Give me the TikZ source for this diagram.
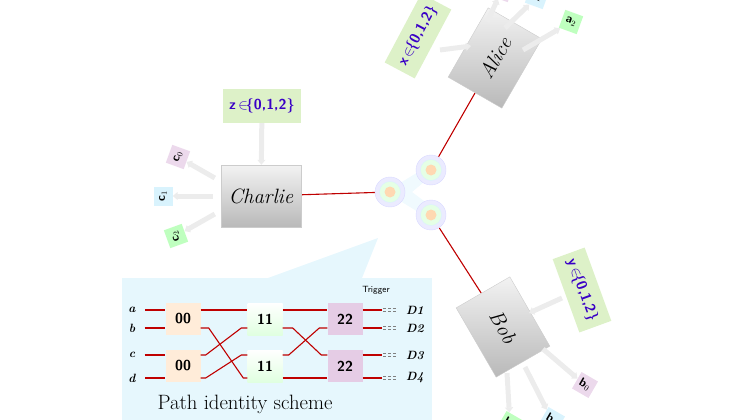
\documentclass[tikz,border=0pt]{standalone}
\usepackage{tikz}
\usetikzlibrary{arrows.meta,calc,backgrounds}
\begin{document}
\begin{tikzpicture}[x=1pt,y=-1pt,>={Triangle[length=5pt,width=8pt]}]
 \tikzstyle{party} = [draw=gray!40,top color=gray!10,bottom color=gray!55,minimum width=80,minimum height=62,font=\itshape\huge]
 \tikzstyle{setting} = [fill=yellow!40!green!22,minimum width=78,minimum height=34,font=\sffamily\bfseries\Large,text=blue!55!violet]
 \tikzstyle{outcome} = [minimum size=19,inner sep=0,font=\sffamily\bfseries\large]
 \tikzstyle{feed} = [->,line width=5pt,draw=gray!15]
 \tikzstyle{fibre} = [red!75!black,line width=1.1pt]
 \tikzstyle{gate} = [minimum width=35,minimum height=32,inner sep=0,font=\sffamily\bfseries\Large]
 \tikzstyle{portlbl} = [font=\bfseries\itshape\large]
 \newcommand{\ring}[2]{%
  \node[circle,fill=blue!8,draw=blue!15,minimum size=30] (#1) at #2 {};
  \node[circle,fill=green!10,draw=cyan!15,minimum size=21] at (#1) {};
  \node[circle,fill=orange!30,minimum size=11] at (#1) {};}

 \useasboundingbox (0,0) rectangle (740,420);
 \clip (0,0) rectangle (740,420);

% Path identity panel
 \fill[cyan!10] (122,278) rectangle (432,420);
 \fill[cyan!10] (268,278) -- (378,238) -- (362,278) -- cycle;

% Source
 \fill[cyan!6] (392,188) -- (428,166) -- (436,172) -- (412,192) -- (436,210) -- (428,218) -- (392,196) -- cycle;
 \ring{s1}{(390,192)}
 \ring{s2}{(431,170)}
 \ring{s3}{(431,215)}

% Parties
 \node[party] (charlie) at (261,196) {Charlie};
 \node[party,rotate=60] (alice) at (495,58) {Alice};
 \node[party,rotate=-60] (bob) at (503,327) {Bob};
 \begin{scope}[on background layer]
  \draw[fibre] (charlie) -- (s1);
  \draw[fibre] (alice) -- (s2);
  \draw[fibre] (bob) -- (s3);
 \end{scope}

% Settings
 \node[setting] (z) at (262,106) {z$\,\in\!$\{0,1,2\}};
 \node[setting,rotate=62] (x) at (418,36) {x$\,\in\!$\{0,1,2\}};
 \node[setting,rotate=-70] (y) at (582,290) {y$\,\in\!$\{0,1,2\}};
 \draw[feed] (z) -- (charlie);
 \draw[feed] ($(x)+(22,14)$) -- ($(alice)+(-24,-12)$);
 \draw[feed] ($(y)+(-20,8)$) -- ($(bob)+(26,-14)$);

% Outcomes
 \node[outcome,fill=violet!15,rotate=70] (c0) at (178,157) {c$_0$};
 \node[outcome,fill=cyan!15,rotate=90] (c1) at (163,196) {c$_1$};
 \node[outcome,fill=green!25,rotate=110] (c2) at (176,236) {c$_2$};
 \draw[feed] ($(charlie.west)+(-6,-18)$) -- (c0);
 \draw[feed] ($(charlie.west)+(-8,0)$) -- (c1);
 \draw[feed] ($(charlie.west)+(-6,18)$) -- (c2);
 \node[outcome,fill=green!25,rotate=-20] (a2) at (571,22) {a$_2$};
 \node[outcome,fill=cyan!15,rotate=-20] (a1) at (537,-3) {a$_1$};
 \node[outcome,fill=violet!15,rotate=-20] (a0) at (502,-10) {a$_0$};
 \draw[feed] ($(alice)+(28,-8)$) -- (a2);
 \draw[feed] ($(alice)+(10,-30)$) -- (a1);
 \draw[feed] ($(alice)+(-8,-36)$) -- (a0);
 \node[outcome,fill=violet!15,rotate=-30] (b0) at (585,385) {b$_0$};
 \node[outcome,fill=cyan!15,rotate=-30] (b1) at (552,420) {b$_1$};
 \node[outcome,fill=green!25,rotate=-30] (b2) at (510,424) {b$_2$};
 \draw[feed] ($(bob)+(40,22)$) -- (b0);
 \draw[feed] ($(bob)+(22,40)$) -- (b1);
 \draw[feed] ($(bob)+(4,46)$) -- (b2);

% Path identity scheme
 \node[gate,fill=orange!15] (g0a) at (183,319) {00};
 \node[gate,fill=orange!15] (g0b) at (183,366) {00};
 \node[gate,top color=white,bottom color=green!12] (g1a) at (265,319) {11};
 \node[gate,top color=white,bottom color=green!12] (g1b) at (265,366) {11};
 \node[gate,fill=violet!20] (g2a) at (345,319) {22};
 \node[gate,fill=violet!20] (g2b) at (345,366) {22};
 \foreach \n/\yy in {a/310,b/328,c/355,d/378}
  \node[portlbl] (p\n) at (132,\yy) {\n};
 \foreach \n/\yy in {1/310,2/328,3/355,4/378} {
  \coordinate (t\n) at (382,\yy);
  \node[portlbl] (D\n) at (415,\yy) {D\n};
  \draw[gray,densely dashed] (383,\yy-1.5) -- (396,\yy-1.5) (383,\yy+1.5) -- (396,\yy+1.5);
 }
 \node[font=\sffamily\small] (trig) at (376,290) {Trigger};
 \begin{scope}[fibre]
  \draw (pa.east)+(6,0) -- (g0a.west |- pa);
  \draw (pb.east)+(6,0) -- (g0a.west |- pb);
  \draw (pc.east)+(6,0) -- (g0b.west |- pc);
  \draw (pd.east)+(6,0) -- (g0b.west |- pd);
  \draw (g0a.east |- pa) -- (g1a.west |- pa);
  \draw (g0a.east |- pb) -- ++(8,0) -- ($(g1b.west |- pd)+(-4,0)$) -- (g1b.west |- pd);
  \draw (g0b.east |- pc) -- ++(5,0) -- ($(g1a.west |- pb)+(-6,0)$) -- (g1a.west |- pb);
  \draw (g0b.east |- pd) -- ++(5,0) -- ($(g1b.west |- pc)+(-6,0)$) -- (g1b.west |- pc);
  \draw (g1a.east |- pa) -- (g2a.west |- pa);
  \draw (g1a.east |- pb) -- ++(10,0) -- ($(g2b.west |- pc)+(-6,0)$) -- (g2b.west |- pc);
  \draw (g1b.east |- pc) -- ++(6,0) -- ($(g2a.west |- pb)+(-8,0)$) -- (g2a.west |- pb);
  \draw (g1b.east |- pd) -- (g2b.west |- pd);
  \draw (g2a.east |- pa) -- (t1);
  \draw (g2a.east |- pb) -- (t2);
  \draw (g2b.east |- pc) -- (t3);
  \draw (g2b.east |- pd) -- (t4);
 \end{scope}
 \node[font=\huge] (title) at (245,404) {Path identity scheme};
\end{tikzpicture}
\end{document}
